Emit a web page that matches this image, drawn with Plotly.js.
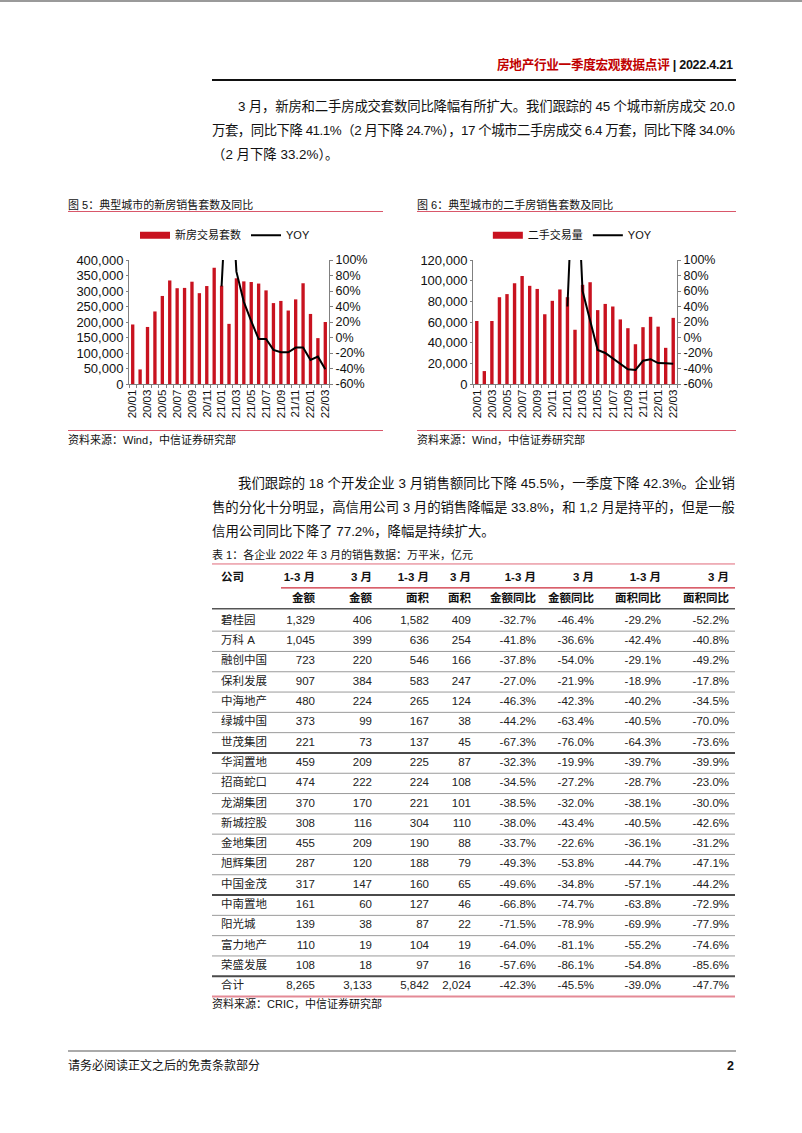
<!DOCTYPE html>
<html>
<head>
<meta charset="utf-8">
<script src="https://cdn.plot.ly/plotly-3.0.1.min.js"></script>
<style>
  html, body { margin:0; padding:0; background:#fff; }
  body { width:802px; height:1133px; position:relative; overflow:hidden;
         font-family:"Liberation Sans", Arial, "Noto Sans CJK SC", sans-serif; color:#111; }
  .abs { position:absolute; white-space:nowrap; }
  .line { position:absolute; height:0; }
  .body13 { font-size:13.4px; line-height:20px; }
  .small { font-size:11px; line-height:14px; }
  .plot { position:absolute; }
</style>
</head>
<body>
<div class="line" style="left:0;top:0;width:802px;border-top:2px solid #9a9a9a;"></div>

<div class="abs fit" data-w="236" style="left:497px;top:56px;font-size:12.6px;font-weight:bold;line-height:18px;"><span style="color:#c00000">房地产行业一季度宏观数据点评</span> | 2022.4.21</div>
<div class="line" style="left:212px;top:79px;width:524px;border-top:2px solid #111;"></div>

<div class="abs body13 fit" data-w="497" style="left:238px;top:97px;">3 月，新房和二手房成交套数同比降幅有所扩大。我们跟踪的 45 个城市新房成交 20.0</div>
<div class="abs body13 fit" data-w="523" style="left:212px;top:121px;">万套，同比下降 41.1%（2 月下降 24.7%），17 个城市二手房成交 6.4 万套，同比下降 34.0%</div>
<div class="abs body13" style="left:212px;top:145px;">（2 月下降 33.2%）。</div>

<div class="abs small" style="left:68px;top:198px;">图 5：典型城市的新房销售套数及同比</div>
<div class="line" style="left:68px;top:211px;width:315px;border-top:1px solid #d9576a;"></div>
<div class="abs small" style="left:417px;top:198px;">图 6：典型城市的二手房销售套数及同比</div>
<div class="line" style="left:417px;top:211px;width:319px;border-top:1px solid #d9576a;"></div>

<div id="c5" class="plot" style="left:60px;top:190px;width:330px;height:242px;"></div>
<div id="c6" class="plot" style="left:410px;top:190px;width:330px;height:242px;"></div>

<div class="line" style="left:68px;top:430px;width:315px;border-top:1px solid #d9576a;"></div>
<div class="abs small" style="left:68px;top:433px;">资料来源：Wind，中信证券研究部</div>
<div class="line" style="left:417px;top:430px;width:319px;border-top:1px solid #d9576a;"></div>
<div class="abs small" style="left:417px;top:433px;">资料来源：Wind，中信证券研究部</div>

<div class="abs body13 fit" data-w="497" style="left:238px;top:474px;">我们跟踪的 18 个开发企业 3 月销售额同比下降 45.5%，一季度下降 42.3%。企业销</div>
<div class="abs body13 fit" data-w="523" style="left:212px;top:498px;">售的分化十分明显，高信用公司 3 月的销售降幅是 33.8%，和 1,2 月是持平的，但是一般</div>
<div class="abs body13" style="left:212px;top:522px;">信用公司同比下降了 77.2%，降幅是持续扩大。</div>

<div class="abs small" style="left:212px;top:548px;">表 1：各企业 2022 年 3 月的销售数据：万平米，亿元</div>
<div id="tbl" class="plot" style="left:200px;top:560px;width:545px;height:460px;"></div>
<div class="abs small" style="left:212px;top:997px;">资料来源：CRIC，中信证券研究部</div>

<div class="line" style="left:68px;top:1050px;width:668px;border-top:2px solid #aaaaaa;"></div>
<div class="abs" style="left:68px;top:1058px;font-size:12px;line-height:16px;">请务必阅读正文之后的免责条款部分</div>
<div class="abs" style="left:727px;top:1058px;font-size:12.5px;line-height:16px;font-weight:bold;">2</div>

<script>
// ---------------- chart data ----------------
const months = ['20/01','20/02','20/03','20/04','20/05','20/06','20/07','20/08','20/09','20/10','20/11','20/12',
                '21/01','21/02','21/03','21/04','21/05','21/06','21/07','21/08','21/09','21/10','21/11','21/12',
                '22/01','22/02','22/03'];
const newHomeUnits = [192000, 47000, 184000, 234000, 284000, 334000, 309000, 310000, 330000, 293000, 316000, 375000,
                      317000, 194000, 341000, 331000, 329000, 324000, 302000, 261000, 268000, 237000, 273000, 325000,
                      226000, 148000, 200000];
const newHomeYoy = [null, null, null, null, null, null, null, null, null, null, null, null,
                    66, 250, 85, 46, 21, -2, -2, -16, -19, -19, -13, -13,
                    -29, -24.7, -41.1];
const secondHandUnits = [61000, 12500, 61000, 84000, 87000, 97500, 104500, 95000, 92000, 67500, 80500, 91500,
                         84000, 52500, 96000, 98500, 71500, 77500, 75000, 62500, 54000, 38500, 55000, 65000,
                         55500, 35000, 64000];
const secondHandYoy = [null, null, null, null, null, null, null, null, null, null, null, null,
                       40, 270, 60, 22, -16, -20, -27, -33, -41, -42, -30, -28,
                       -33, -33.2, -34.0];
const yoyTickVals = [-60, -40, -20, 0, 20, 40, 60, 80, 100];
const yoyTickText = ['-60%', '-40%', '-20%', '0%', '20%', '40%', '60%', '80%', '100%'];

// ---------------- table data ----------------
const companies = ['碧桂园','万科 A','融创中国','保利发展','中海地产','绿城中国','世茂集团','华润置地','招商蛇口','龙湖集团',
                   '新城控股','金地集团','旭辉集团','中国金茂','中南置地','阳光城','富力地产','荣盛发展','合计'];
const amount13 = ['1,329','1,045','723','907','480','373','221','459','474','370','308','455','287','317','161','139','110','108','8,265'];
const amount3 = ['406','399','220','384','224','99','73','209','222','170','116','209','120','147','60','38','19','18','3,133'];
const area13 = ['1,582','636','546','583','265','167','137','225','224','221','304','190','188','160','127','87','104','97','5,842'];
const area3 = ['409','254','166','247','124','38','45','87','108','101','110','88','79','65','46','22','19','16','2,024'];
const amount13Yoy = ['-32.7%','-41.8%','-37.8%','-27.0%','-46.3%','-44.2%','-67.3%','-32.3%','-34.5%','-38.5%','-38.0%','-33.7%','-49.3%','-49.6%','-66.8%','-71.5%','-64.0%','-57.6%','-42.3%'];
const amount3Yoy = ['-46.4%','-36.6%','-54.0%','-21.9%','-42.3%','-63.4%','-76.0%','-19.9%','-27.2%','-32.0%','-43.4%','-22.6%','-53.8%','-34.8%','-74.7%','-78.9%','-81.1%','-86.1%','-45.5%'];
const area13Yoy = ['-29.2%','-42.4%','-29.1%','-18.9%','-40.2%','-40.5%','-64.3%','-39.7%','-28.7%','-38.1%','-40.5%','-36.1%','-44.7%','-57.1%','-63.8%','-69.9%','-55.2%','-54.8%','-39.0%'];
const area3Yoy = ['-52.2%','-40.8%','-49.2%','-17.8%','-34.5%','-70.0%','-73.6%','-39.9%','-23.0%','-30.0%','-42.6%','-31.2%','-47.1%','-44.2%','-72.9%','-77.9%','-74.6%','-85.6%','-47.7%'];
const headerTop = ['1-3 月','3 月','1-3 月','3 月','1-3 月','3 月','1-3 月','3 月'];
const headerBottom = ['金额','金额','面积','面积','金额同比','金额同比','面积同比','面积同比'];
const headerCompany = '公司';

// ---------------- styles ----------------
const RED = '#c8121f';
const FONT = '"Liberation Sans", Arial, "Noto Sans CJK SC", sans-serif';
const AXIS = '#808080';

function drawChart(id, units, yoy, unitName, leftMax, leftStep, marginL, marginR, legendX) {
  const tickText = months.map((m, i) => (i % 2 === 0 ? m : ''));
  const traces = [
    { type: 'bar', x: months, y: units, marker: { color: RED }, showlegend: false, hoverinfo: 'skip' },
    { type: 'scatter', mode: 'lines', x: [null], y: [null], name: unitName,
      line: { color: RED, width: 7 }, hoverinfo: 'skip' },
    { type: 'scatter', mode: 'lines', x: months, y: yoy, yaxis: 'y2', name: 'YOY',
      line: { color: '#000', width: 2 }, connectgaps: false, hoverinfo: 'skip' }
  ];
  const layout = {
    width: 330, height: 242,
    margin: { l: marginL, r: marginR, t: 70, b: 48, pad: 0 },
    paper_bgcolor: 'rgba(0,0,0,0)', plot_bgcolor: 'rgba(0,0,0,0)',
    font: { family: FONT, size: 12, color: '#111' },
    bargap: 0.55,
    showlegend: true,
    legend: { orientation: 'h', x: legendX, xanchor: 'center', y: 1.2, yanchor: 'middle',
              font: { size: 11, color: '#111' }, bgcolor: 'rgba(0,0,0,0)', itemwidth: 30, tracegroupgap: 0 },
    xaxis: { type: 'category', tickvals: months, ticktext: tickText, tickangle: -90,
             tickfont: { size: 11.5 }, ticks: 'outside', ticklen: 3, tickcolor: AXIS, tickson: 'boundaries',
             showline: true, linecolor: AXIS, linewidth: 1, showgrid: false, zeroline: false, fixedrange: true },
    yaxis: { range: [0, leftMax], dtick: leftStep, tickformat: ',d', tickfont: { size: 13 },
             ticks: 'outside', ticklen: 2, tickcolor: AXIS, showline: true, linecolor: AXIS, linewidth: 1,
             showgrid: false, zeroline: false, fixedrange: true },
    yaxis2: { overlaying: 'y', side: 'right', range: [-60, 100], tickvals: yoyTickVals, ticktext: yoyTickText,
              tickfont: { size: 12.5 }, ticks: 'outside', ticklen: 3, tickcolor: AXIS, showline: true,
              linecolor: AXIS, linewidth: 1, showgrid: false, zeroline: false, fixedrange: true }
  };
  Plotly.newPlot(id, traces, layout, { staticPlot: true, displayModeBar: false });
}

drawChart('c5', newHomeUnits, newHomeYoy, '新房交易套数', 400000, 50000, 69, 61, 0.48);
drawChart('c6', secondHandUnits, secondHandYoy, '二手交易量', 120000, 20000, 63, 63, 0.487);

// ---------------- table ----------------
(function () {
  const colRight = [315, 372, 429, 471, 536, 594, 661, 729];
  const nameLeft = 221;
  const tableLeft = 212, tableRight = 735;
  const columns = [amount13, amount3, area13, area3, amount13Yoy, amount3Yoy, area13Yoy, area3Yoy];
  const rows = companies.map((_, i) => i);
  const tf = { family: FONT, size: 11.5, color: '#222' };
  const tfb = { family: FONT, size: 11.5, color: '#111', weight: 'bold' };
  const traces = [];
  traces.push({ type: 'scatter', mode: 'text', x: companies.map(() => nameLeft), y: rows, text: companies,
                textposition: 'middle right', textfont: tf, marker: { size: 0 }, hoverinfo: 'skip' });
  columns.forEach((col, c) => {
    traces.push({ type: 'scatter', mode: 'text', x: col.map(() => colRight[c]), y: rows, text: col,
                  textposition: 'middle left', textfont: tf, marker: { size: 0 }, hoverinfo: 'skip' });
  });
  traces.push({ type: 'scatter', mode: 'text', x: [nameLeft], y: [-2.1], text: [headerCompany],
                textposition: 'middle right', textfont: tfb, marker: { size: 0 }, hoverinfo: 'skip' });
  traces.push({ type: 'scatter', mode: 'text', x: colRight, y: headerTop.map(() => -2.1), text: headerTop,
                textposition: 'middle left', textfont: tfb, marker: { size: 0 }, hoverinfo: 'skip' });
  traces.push({ type: 'scatter', mode: 'text', x: colRight, y: headerBottom.map(() => -1.1), text: headerBottom,
                textposition: 'middle left', textfont: tfb, marker: { size: 0 }, hoverinfo: 'skip' });

  const hline = (y, color, width, x0) => ({ type: 'line', xref: 'x', yref: 'y', x0: x0 || tableLeft, x1: tableRight,
                                            y0: y, y1: y, line: { color: color, width: width } });
  const shapes = [];
  shapes.push(hline(-2.81, '#e06a7a', 1));
  shapes.push(hline(-1.63, '#cc2a3a', 1.2, 281));
  shapes.push(hline(-0.6, '#555', 1.4));
  const heavyAfter = [6, 13, 17];
  for (let r = 0; r < companies.length - 1; r++) {
    if (heavyAfter.indexOf(r) >= 0) shapes.push(hline(r + 0.5, '#4a4a4a', 2));
    else shapes.push(hline(r + 0.5, '#9a9a9a', 1));
  }
  shapes.push(hline(companies.length - 0.5, '#e48a96', 2));

  const layout = {
    width: 545, height: 460, margin: { l: 0, r: 0, t: 0, b: 0 },
    paper_bgcolor: 'rgba(0,0,0,0)', plot_bgcolor: 'rgba(0,0,0,0)',
    showlegend: false,
    xaxis: { range: [200, 745], visible: false, fixedrange: true },
    yaxis: { range: [19.655, -3.005], visible: false, fixedrange: true },
    shapes: shapes
  };
  Plotly.newPlot('tbl', traces, layout, { staticPlot: true, displayModeBar: false });
})();

// ---------------- justify single lines ----------------
function fitLines() {
  document.querySelectorAll('.fit').forEach(el => {
    el.style.letterSpacing = '0px';
    const nat = el.getBoundingClientRect().width;
    const n = Array.from(el.textContent).length;
    const w = +el.dataset.w;
    el.style.letterSpacing = ((w - nat) / (n - 1)) + 'px';
  });
}
if (document.fonts && document.fonts.ready) document.fonts.ready.then(fitLines); else fitLines();
fitLines();
</script>
</body>
</html>
